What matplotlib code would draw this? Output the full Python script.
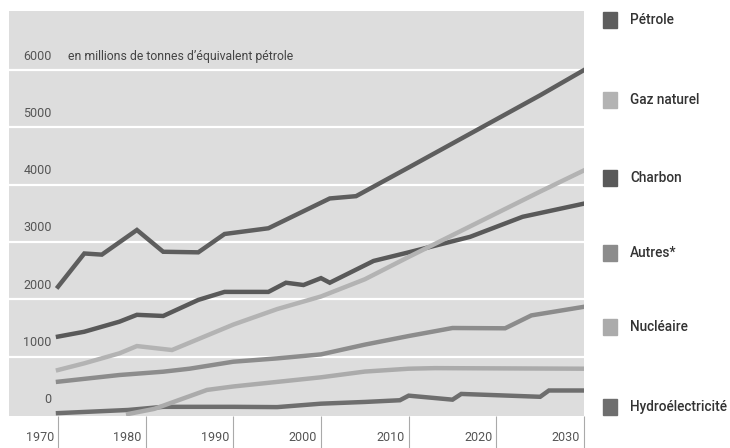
import matplotlib.pyplot as plt
from matplotlib.patches import Rectangle
from matplotlib.transforms import ScaledTranslation

# series (Mtoe)
petrole_years = [1970, 1973, 1975, 1979, 1982, 1986, 1989, 1994, 2001, 2004, 2010, 2015, 2020, 2025, 2030]
petrole = [2220, 2800, 2780, 3210, 2830, 2820, 3140, 3240, 3760, 3800, 4300, 4720, 5140, 5560, 6000]

gaz_years = [1970, 1973, 1977, 1979, 1983, 1990, 1995, 2000, 2005, 2010, 2015, 2020, 2025, 2030]
gaz = [767, 884, 1058, 1185, 1116, 1560, 1830, 2050, 2350, 2740, 3120, 3500, 3880, 4250]

charbon_years = [1970, 1973, 1977, 1979, 1982, 1986, 1989, 1994, 1996, 1998, 2000, 2001, 2006, 2010, 2017, 2023, 2030]
charbon = [1350, 1435, 1610, 1730, 1710, 1990, 2130, 2130, 2290, 2250, 2370, 2290, 2670, 2820, 3090, 3440, 3670]

autres_years = [1970, 1977, 1982, 1985, 1990, 1995, 2000, 2005, 2010, 2015, 2021, 2024, 2030]
autres = [563, 680, 738, 790, 912, 970, 1040, 1210, 1360, 1500, 1495, 1720, 1870]

nucleaire_years = [1978, 1981, 1987, 1990, 1995, 2000, 2005, 2010, 2013, 2030]
nucleaire = [0, 90, 420, 480, 560, 640, 740, 790, 800, 790]

hydro_years = [1970, 1978, 1982, 1990, 1995, 2000, 2005, 2009, 2010, 2015, 2016, 2025, 2026, 2030]
hydro = [15, 70, 125, 125, 120, 180, 210, 240, 320, 250, 350, 300, 410, 410]

y_ticks = [0, 1000, 2000, 3000, 4000, 5000, 6000]
x_ticks = [1970, 1980, 1990, 2000, 2010, 2020, 2030]

labels = ['Pétrole', 'Gaz naturel', 'Charbon', 'Autres*', 'Nucléaire', 'Hydroélectricité']
colors = ['#5e5e5e', '#b3b3b3', '#595959', '#8c8c8c', '#ababab', '#6e6e6e']
legend_y = [20, 100, 178, 253, 327, 407]

fig = plt.figure(figsize=(7.3, 4.48), dpi=100)
ax = fig.add_axes([9 / 730, 32 / 448, 575 / 730, 405 / 448])
ax.set_facecolor('#dddddd')
ax.set_xlim(1964.41, 2030)
ax.set_ylim(-35, 7030)

for v in y_ticks[1:]:
    ax.axhline(v, color='white', lw=1.6, zorder=1)

series = [(hydro_years, hydro), (nucleaire_years, nucleaire), (autres_years, autres),
          (charbon_years, charbon), (gaz_years, gaz), (petrole_years, petrole)]
order = [5, 4, 3, 2, 1, 0]
for (xs, ys), i in zip(series, order):
    ax.plot(xs, ys, color=colors[i], lw=3.2, solid_joinstyle='miter', zorder=3)

for v in y_ticks:
    ax.text(1969.3, v + 245, str(v), ha='right', va='center', fontsize=9,
            color='#555555', family='Roboto')

ax.text(1971.1, 6244, 'en millions de tonnes d’équivalent pétrole', ha='left', va='center',
        fontsize=8.8, color='#444444', family='Roboto')

for s in ax.spines.values():
    s.set_visible(False)
ax.set_yticks([])
ax.set_xticks(x_ticks)
ax.set_xticklabels([str(x) for x in x_ticks])
ax.tick_params(axis='x', length=24, width=0.8, color='#aaaaaa', pad=-13, labelsize=9,
               labelcolor='#555555')
off = ScaledTranslation(-0.04, 0, fig.dpi_scale_trans)
for lab in ax.get_xticklabels():
    lab.set_ha('right')
    lab.set_family('Roboto')
    lab.set_transform(lab.get_transform() + off)

# legend on the right
for lab, c, yp in zip(labels, colors, legend_y):
    fig.add_artist(Rectangle((603 / 730, 1 - (yp + 8) / 448), 14 / 730, 16 / 448,
                             transform=fig.transFigure, color=c))
    fig.text(630 / 730, 1 - yp / 448, lab, ha='left', va='center', fontsize=9.8,
             color='#333333', family='Roboto', weight='medium')

fig.savefig('out.png', dpi=100)
